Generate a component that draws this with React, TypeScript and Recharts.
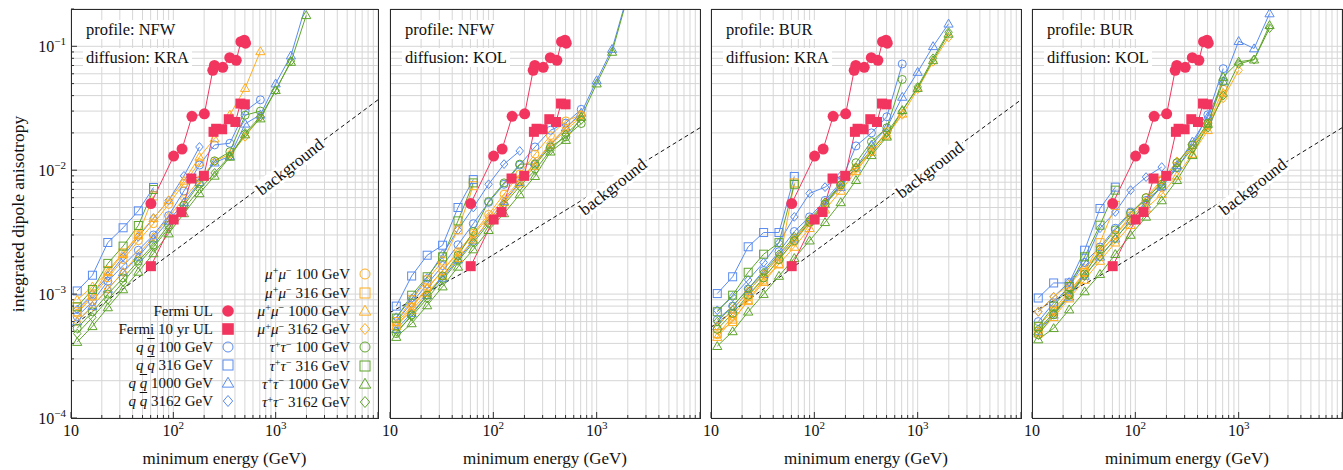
import React from 'react';
import { LineChart, Line, XAxis, YAxis, CartesianGrid } from 'recharts';

const FONT = '"Liberation Serif", "DejaVu Serif", "Times New Roman", serif';
const BLUE = '#5a8cf0';
const ORANGE = '#ffad1f';
const GREEN = '#5fa52c';
const RED = '#f2355f';
const GRID = '#d6d6d6';

// energy grid of the model points (GeV)
const E_GRID = [11.5, 16.2, 22.9, 32.3, 45.5, 64, 90, 127, 180, 253, 357, 503, 709, 1000, 1410, 1990];

// Fermi upper limits (same in all panels)
const FERMI_UL_E = [60.4, 100.7, 121.7, 152, 201, 243, 252, 304, 356, 412, 457, 494, 508];
const FERMI_UL = [0.00538, 0.013, 0.0148, 0.0272, 0.0285, 0.064, 0.07, 0.0677, 0.081, 0.077, 0.109, 0.112, 0.106];
const FERMI10_E = [60.4, 100.7, 120, 150, 199, 247, 262, 300, 348, 404, 452, 500];
const FERMI10 = [0.00168, 0.004, 0.0046, 0.00857, 0.009, 0.0204, 0.0216, 0.0214, 0.0258, 0.0245, 0.0345, 0.034];

// background curves
const BG_KRA_E = [10, 100, 1000, 10000];
const BG_KRA = [0.00054, 0.0022, 0.009, 0.037];
const BG_KOL_E = [10, 60, 450, 10000];
const BG_KOL = [0.00071, 0.0016, 0.0045, 0.022];

// model values, units of 1e-3, on E_GRID
// panel 1: NFW / KRA
const P1_QQ100 = [0.66, 0.87, 1.27, 1.7, 2.26, 3.0, 4.3, 6.8, 11, 16, 16.5, 30, 37];
const P1_QQ316 = [1.06, 1.42, 2.61, 3.43, 4.7, 7.25];
const P1_QQ1000 = [0.6, 0.8, 1.1, 1.5, 2.0, 2.8, 3.9, 5.5, 8.0, 11.5, 13, 23.7, 28, 50, 84, 220];
const P1_QQ3162 = [0.75, 1.0, 1.4, 2.0, 2.9, 4.1, 5.7, 9.0, 15.4];
const P1_MM100 = [0.7, 0.95, 1.35, 1.9, 2.7, 3.7, 5.3, 7.8, 11.5];
const P1_MM316 = [0.72, 0.98, 1.55, 2.15, 3.0, 6.2];
const P1_MM1000 = [0.9, 1.15, 1.5, 2.1, 3.0, 4.1, 5.7, 8.2, 12.8, 18, 28, 46, 91];
const P1_MM3162 = [0.6, 0.8, 1.1, 1.5, 2.1, 2.9, 4.2, 5.9, 8.3, 11.8, 13.5, 18.6, 27];
const P1_TT100 = [0.53, 0.72, 1.0, 1.35, 1.85, 2.5, 3.6, 5.2, 7.8, 11.9, 14.1, 27.8, 30];
const P1_TT316 = [0.79, 1.09, 1.77, 2.44, 3.58, 6.98];
const P1_TT1000 = [0.41, 0.55, 0.78, 1.09, 1.51, 2.13, 3.08, 4.48, 6.5, 9.0, 12.8, 19.4, 26.1, 44.2, 74.7, 178];
const P1_TT3162 = [0.48, 0.65, 0.9, 1.25, 1.75, 2.4, 3.4, 4.9, 7.0, 9.5, 13, 20, 27, 44, 76];

// panel 2: NFW / KOL
const P2_QQ100 = [0.6, 0.85, 1.2, 1.7, 2.5, 3.7, 5.5, 7.7, 11, 15.4, 21, 24, 31];
const P2_QQ316 = [0.8, 1.4, 2.06, 2.48, 5.0, 8.4];
const P2_QQ1000 = [0.52, 0.7, 0.98, 1.35, 1.9, 2.7, 3.9, 5.6, 8.0, 11.5, 16, 22, 29, 53, 95, 260];
const P2_QQ3162 = [0.65, 0.92, 1.35, 2.1, 3.3, 5.0, 7.7, 11.2, 14.3];
const P2_MM100 = [0.55, 0.78, 1.1, 1.55, 2.2, 3.1, 4.4, 6.4, 9.3, 13.5, 19, 25, 28];
const P2_MM316 = [0.6, 0.9, 1.3, 1.85, 3.3, 7.5];
const P2_MM1000 = [0.55, 0.74, 1.02, 1.4, 1.95, 2.75, 3.9, 5.5, 7.8, 10.8, 16, 21, 27];
const P2_MM3162 = [0.58, 0.8, 1.12, 1.55, 2.15, 3.0, 4.2, 5.9, 8.2, 11.5, 16.5, 22, 28];
const P2_TT100 = [0.48, 0.68, 0.98, 1.4, 2.05, 3.2, 5.6, 7.9, 11.2, 11.2, 15.4, 18.6, 23.8];
const P2_TT316 = [0.64, 0.98, 1.38, 2.0, 3.9, 7.9];
const P2_TT1000 = [0.45, 0.58, 0.81, 1.15, 1.66, 2.29, 3.28, 4.48, 6.37, 8.95, 14.1, 17.5, 26.9, 50, 90, 250];
const P2_TT3162 = [0.5, 0.66, 0.92, 1.3, 1.85, 2.6, 3.7, 5.3, 7.4, 10, 14.5, 19.5, 25.5];

// panel 3: BUR / KRA
const P3_QQ100 = [0.62, 0.8, 1.1, 1.55, 2.2, 3.2, 4.2, 5.7, 8.0, 15.7, 20, 27, 72];
const P3_QQ316 = [1.01, 1.38, 2.41, 3.14, 3.14, 8.9];
const P3_QQ1000 = [0.55, 0.75, 1.05, 1.45, 2.0, 2.8, 3.9, 5.3, 7.3, 10.5, 16, 22, 39, 62, 100, 152];
const P3_QQ3162 = [0.74, 0.95, 1.3, 1.8, 2.6, 4.2, 6.5, 7.3, 9.0];
const P3_MM100 = [0.47, 0.66, 0.95, 1.35, 1.9, 2.65, 3.75, 5.3, 7.5, 10.5, 14.5, 20.5];
const P3_MM316 = [0.48, 0.6, 0.9, 1.3, 1.75, 7.9];
const P3_MM1000 = [0.45, 0.62, 0.88, 1.25, 1.75, 2.4, 3.4, 4.8, 6.8, 9.8, 14, 19, 28.5];
const P3_MM3162 = [0.55, 0.75, 1.05, 1.45, 2.0, 2.8, 3.9, 5.4, 7.5, 10.2, 14, 19, 28, 45, 75, 118];
const P3_TT100 = [0.52, 0.7, 0.98, 1.35, 1.9, 2.7, 3.8, 5.3, 7.6, 11.5, 17, 22, 54];
const P3_TT316 = [0.72, 0.98, 1.5, 2.1, 2.6, 7.7];
const P3_TT1000 = [0.38, 0.5, 0.72, 1.0, 1.4, 1.95, 2.7, 3.8, 5.5, 8.3, 13.2, 18.6, 30.5, 46, 77, 126];
const P3_TT3162 = [0.6, 0.8, 1.1, 1.5, 2.1, 2.9, 4.0, 5.5, 7.7, 10.5, 14.5, 20, 30, 47, 80, 130];

// panel 4: BUR / KOL
const P4_QQ100 = [0.6, 0.85, 1.15, 1.8, 2.4, 3.4, 4.6, 5.7, 7.3, 10.4, 15.9, 28, 66];
const P4_QQ316 = [0.93, 1.23, 1.23, 2.26, 4.91, 7.3];
const P4_QQ1000 = [0.5, 0.68, 0.95, 1.4, 2.0, 2.8, 3.9, 5.3, 7.4, 11, 17, 27, 52, 110, 96, 184];
const P4_QQ3162 = [0.72, 0.95, 1.25, 1.8, 3.4, 4.6, 6.9, 8.8, 10.6];
const P4_MM100 = [0.55, 0.75, 1.05, 1.5, 2.15, 3.0, 4.3, 6.0, 8.4, 11.5, 16, 23, 45];
const P4_MM316 = [0.5, 0.72, 1.0, 1.5, 2.6, 5.2];
const P4_MM1000 = [0.48, 0.65, 0.92, 1.3, 1.85, 2.6, 3.6, 4.9, 6.4, 9.0, 13.5, 21, 42];
const P4_MM3162 = [0.72, 0.95, 1.2, 1.6, 2.2, 3.0, 4.1, 5.6, 8.3, 11.8, 15, 24, 38, 64];
const P4_TT100 = [0.47, 0.68, 0.98, 1.45, 2.3, 3.3, 4.5, 6.0, 7.7, 11.5, 16, 24, 52];
const P4_TT316 = [0.55, 0.8, 1.15, 2.0, 3.6, 6.9];
const P4_TT1000 = [0.43, 0.53, 0.75, 1.05, 1.45, 2.1, 3.0, 4.2, 5.7, 8.3, 13.2, 23.6, 56.5, 75, 78, 148];
const P4_TT3162 = [0.52, 0.7, 0.98, 1.4, 2.0, 2.8, 3.9, 5.4, 7.5, 10.5, 15, 22, 40, 72, 78, 140];

const MANT = [1, 2, 3, 4, 5, 6, 7, 8, 9];
const X_TICKS = [1, 2, 3].flatMap((e) => MANT.map((m) => m * Math.pow(10, e))).concat([10000]);
const Y_TICKS = [-4, -3, -2].flatMap((e) => MANT.map((m) => m * Math.pow(10, e))).concat([0.1, 0.2]);

type Shape = 'circle' | 'square' | 'triangle' | 'diamond';

const SERIES_META: { id: string; color: string; shape: Shape }[] = [
  { id: 'qq100', color: BLUE, shape: 'circle' },
  { id: 'qq316', color: BLUE, shape: 'square' },
  { id: 'qq1000', color: BLUE, shape: 'triangle' },
  { id: 'qq3162', color: BLUE, shape: 'diamond' },
  { id: 'mm100', color: ORANGE, shape: 'circle' },
  { id: 'mm316', color: ORANGE, shape: 'square' },
  { id: 'mm1000', color: ORANGE, shape: 'triangle' },
  { id: 'mm3162', color: ORANGE, shape: 'diamond' },
  { id: 'tt100', color: GREEN, shape: 'circle' },
  { id: 'tt316', color: GREEN, shape: 'square' },
  { id: 'tt1000', color: GREEN, shape: 'triangle' },
  { id: 'tt3162', color: GREEN, shape: 'diamond' },
];

const PANELS = [
  {
    profile: 'NFW', diffusion: 'KRA', left: 71, width: 307, bgE: BG_KRA_E, bg: BG_KRA, bgLabel: [290, 166.7],
    series: [P1_QQ100, P1_QQ316, P1_QQ1000, P1_QQ3162, P1_MM100, P1_MM316, P1_MM1000, P1_MM3162, P1_TT100, P1_TT316, P1_TT1000, P1_TT3162],
  },
  {
    profile: 'NFW', diffusion: 'KOL', left: 390, width: 310, bgE: BG_KOL_E, bg: BG_KOL, bgLabel: [613, 186.7],
    series: [P2_QQ100, P2_QQ316, P2_QQ1000, P2_QQ3162, P2_MM100, P2_MM316, P2_MM1000, P2_MM3162, P2_TT100, P2_TT316, P2_TT1000, P2_TT3162],
  },
  {
    profile: 'BUR', diffusion: 'KRA', left: 711, width: 310, bgE: BG_KRA_E, bg: BG_KRA, bgLabel: [930, 170],
    series: [P3_QQ100, P3_QQ316, P3_QQ1000, P3_QQ3162, P3_MM100, P3_MM316, P3_MM1000, P3_MM3162, P3_TT100, P3_TT316, P3_TT1000, P3_TT3162],
  },
  {
    profile: 'BUR', diffusion: 'KOL', left: 1032, width: 310, bgE: BG_KOL_E, bg: BG_KOL, bgLabel: [1253, 186.7],
    series: [P4_QQ100, P4_QQ316, P4_QQ1000, P4_QQ3162, P4_MM100, P4_MM316, P4_MM1000, P4_MM3162, P4_TT100, P4_TT316, P4_TT1000, P4_TT3162],
  },
];

const PLOT_TOP = 9;
const PLOT_BOTTOM = 418;

const modelData = (vals: number[]) => vals.map((v, i) => ({ e: E_GRID[i], v: v * 1e-3 }));
const pairData = (es: number[], vs: number[]) => es.map((e, i) => ({ e, v: vs[i] }));

function Marker({ shape, cx, cy, color, size, filled }: { shape: Shape; cx: number; cy: number; color: string; size: number; filled?: boolean }) {
  const fill = filled ? color : 'none';
  const sw = filled ? 0 : 1;
  if (shape === 'circle') return <circle cx={cx} cy={cy} r={size} fill={fill} stroke={color} strokeWidth={sw} />;
  if (shape === 'square')
    return <rect x={cx - size} y={cy - size} width={2 * size} height={2 * size} fill={fill} stroke={color} strokeWidth={sw} />;
  if (shape === 'triangle') {
    const h = size * 1.15;
    return (
      <polygon
        points={`${cx},${cy - h} ${cx - h},${cy + h * 0.72} ${cx + h},${cy + h * 0.72}`}
        fill={fill}
        stroke={color}
        strokeWidth={sw}
      />
    );
  }
  const d = size * 1.1;
  return (
    <polygon points={`${cx},${cy - d} ${cx + d * 0.85},${cy} ${cx},${cy + d} ${cx - d * 0.85},${cy}`} fill={fill} stroke={color} strokeWidth={sw} />
  );
}

const makeDot = (shape: Shape, color: string, size: number, filled = false) => (props: any) => {
  const { cx, cy, index } = props;
  if (cx == null || cy == null || isNaN(cx) || isNaN(cy)) return <g key={`d${index}`} />;
  return <Marker key={`d${index}`} shape={shape} cx={cx} cy={cy} color={color} size={size} filled={filled} />;
};

const isMajor = (v: number) => {
  const lg = Math.log10(v);
  return Math.abs(lg - Math.round(lg)) < 1e-9;
};

function XTick(props: any) {
  const { x, y, payload } = props;
  const v = payload.value;
  const major = isMajor(v);
  const lg = Math.round(Math.log10(v));
  return (
    <g>
      <line x1={x} x2={x} y1={y} y2={y - (major ? 6 : 3)} stroke="#333" strokeWidth={1} />
      {major && v < 10000 && (
        <text x={x} y={y + 18} textAnchor="middle" fontSize={16} fontFamily={FONT} fill="#111">
          {lg === 1 ? (
            '10'
          ) : (
            <>
              <tspan>10</tspan>
              <tspan dy={-7} fontSize={11}>{lg}</tspan>
            </>
          )}
        </text>
      )}
    </g>
  );
}

function YTick(props: any) {
  const { x, y, payload } = props;
  const v = payload.value;
  const major = isMajor(v);
  const lg = Math.round(Math.log10(v));
  return (
    <g>
      <line x1={x} x2={x + (major ? 6 : 3)} y1={y} y2={y} stroke="#333" strokeWidth={1} />
      {major && (
        <text x={x - 5} y={y + 6} textAnchor="end" fontSize={16} fontFamily={FONT} fill="#111">
          <tspan>10</tspan>
          <tspan dy={-7} fontSize={11}>{`\u2212${-lg}`}</tspan>
        </text>
      )}
    </g>
  );
}

function Panel({ p, idx }: { p: (typeof PANELS)[number]; idx: number }) {
  const first = idx === 0;
  const ml = first ? 0 : 14;
  const mr = first ? 8 : 6;
  const yw = first ? p.left : 0;
  const chartLeft = first ? 0 : p.left - 14;
  const width = yw + ml + p.width + mr;
  return (
    <div style={{ position: 'absolute', left: chartLeft, top: 0 }}>
      <LineChart width={width} height={470} margin={{ top: PLOT_TOP, right: mr, left: ml, bottom: 0 }}>
        <CartesianGrid stroke={GRID} strokeWidth={1} />
        <XAxis
          type="number"
          dataKey="e"
          scale="log"
          domain={[10, 10000]}
          allowDataOverflow
          ticks={X_TICKS}
          interval={0}
          tickLine={false}
          axisLine={false}
          tickSize={0}
          tickMargin={0}
          height={470 - PLOT_BOTTOM}
          tick={(tp: any) => <XTick {...tp} />}
        />
        <YAxis
          type="number"
          dataKey="v"
          scale="log"
          domain={[1e-4, 0.2]}
          allowDataOverflow
          ticks={Y_TICKS}
          interval={0}
          tickLine={false}
          axisLine={false}
          tickSize={0}
          tickMargin={0}
          hide={!first}
          width={first ? p.left : 0}
          tick={(tp: any) => <YTick {...tp} />}
        />
        <Line
          data={pairData(p.bgE, p.bg)}
          dataKey="v"
          stroke="#111"
          strokeWidth={1}
          strokeDasharray="4 3"
          dot={false}
          activeDot={false}
          isAnimationActive={false}
          type="linear"
        />
        {SERIES_META.map((m, si) => (
          <Line
            key={m.id}
            data={modelData(p.series[si])}
            dataKey="v"
            stroke={m.color}
            strokeWidth={1}
            type="linear"
            dot={makeDot(m.shape, m.color, 4)}
            activeDot={false}
            isAnimationActive={false}
          />
        ))}
        <Line
          data={pairData(FERMI10_E, FERMI10)}
          dataKey="v"
          stroke={RED}
          strokeWidth={1}
          type="linear"
          dot={makeDot('square', RED, 5, true)}
          activeDot={false}
          isAnimationActive={false}
        />
        <Line
          data={pairData(FERMI_UL_E, FERMI_UL)}
          dataKey="v"
          stroke={RED}
          strokeWidth={1}
          type="linear"
          dot={makeDot('circle', RED, 5.5, true)}
          activeDot={false}
          isAnimationActive={false}
        />
      </LineChart>
    </div>
  );
}

const supStyle: React.CSSProperties = { fontSize: '0.68em', position: 'relative', top: '-0.45em', lineHeight: 0 };
const qq = (m: string) => (
  <>
    <i>q</i> <span style={{ textDecoration: 'overline' }}><i>q</i></span> {m} GeV
  </>
);
const mm = (m: string) => (
  <>
    <i>μ</i><span style={supStyle}>+</span><i>μ</i><span style={supStyle}>−</span> {m} GeV
  </>
);
const tt = (m: string) => (
  <>
    <i>τ</i><span style={supStyle}>+</span><i>τ</i><span style={supStyle}>−</span> {m} GeV
  </>
);

const LEGEND_COL1 = [
  { label: <>Fermi UL</>, shape: 'circle' as Shape, color: RED, filled: true, y: 310.7 },
  { label: <>Fermi 10 yr UL</>, shape: 'square' as Shape, color: RED, filled: true, y: 329 },
  { label: qq('100'), shape: 'circle' as Shape, color: BLUE, filled: false, y: 346.8 },
  { label: qq('316'), shape: 'square' as Shape, color: BLUE, filled: false, y: 364.9 },
  { label: qq('1000'), shape: 'triangle' as Shape, color: BLUE, filled: false, y: 383 },
  { label: qq('3162'), shape: 'diamond' as Shape, color: BLUE, filled: false, y: 401.2 },
];
const LEGEND_COL2 = [
  { label: mm('100'), shape: 'circle' as Shape, color: ORANGE, y: 274 },
  { label: mm('316'), shape: 'square' as Shape, color: ORANGE, y: 292.5 },
  { label: mm('1000'), shape: 'triangle' as Shape, color: ORANGE, y: 310.9 },
  { label: mm('3162'), shape: 'diamond' as Shape, color: ORANGE, y: 329.2 },
  { label: tt('100'), shape: 'circle' as Shape, color: GREEN, y: 347.4 },
  { label: tt('316'), shape: 'square' as Shape, color: GREEN, y: 365.7 },
  { label: tt('1000'), shape: 'triangle' as Shape, color: GREEN, y: 384 },
  { label: tt('3162'), shape: 'diamond' as Shape, color: GREEN, y: 402.3 },
];

function LegendRow({ right, mx, item }: { right: number; mx: number; item: any }) {
  return (
    <>
      <div
        style={{
          position: 'absolute',
          left: right - 220,
          width: 220,
          top: item.y - 9,
          height: 18,
          lineHeight: '18px',
          textAlign: 'right',
          fontSize: 15,
          fontFamily: FONT,
          whiteSpace: 'nowrap',
          color: '#111',
        }}
      >
        {item.label}
      </div>
      <svg style={{ position: 'absolute', left: mx - 9, top: item.y - 9 }} width={18} height={18}>
        <Marker shape={item.shape} cx={9} cy={9} color={item.color} size={item.filled ? 5.8 : 5} filled={!!item.filled} />
      </svg>
    </>
  );
}

export default function App() {
  return (
    <div style={{ position: 'absolute', left: 0, top: 0, width: 1343, height: 470, background: '#fff', overflow: 'hidden', fontFamily: FONT }}>
      {PANELS.map((p, i) => (
        <Panel key={i} p={p} idx={i} />
      ))}
      {PANELS.map((p, i) => (
        <React.Fragment key={`o${i}`}>
          <div
            style={{
              position: 'absolute',
              left: p.left,
              top: PLOT_TOP,
              width: p.width + 1,
              height: PLOT_BOTTOM - PLOT_TOP + 1,
              border: '1px solid #2a2a2a',
              boxSizing: 'border-box',
              pointerEvents: 'none',
            }}
          />
          <div style={{ position: 'absolute', left: p.left + 12, top: 20, fontSize: 16.5, lineHeight: '19px', background: '#fff', padding: '0 3px', color: '#111', whiteSpace: 'nowrap' }}>
            profile: {p.profile}
          </div>
          <div style={{ position: 'absolute', left: p.left + 12, top: 47.5, fontSize: 16.5, lineHeight: '19px', background: '#fff', padding: '0 3px', color: '#111', whiteSpace: 'nowrap' }}>
            diffusion: {p.diffusion}
          </div>
          <div
            style={{
              position: 'absolute',
              left: p.bgLabel[0],
              top: p.bgLabel[1],
              transform: 'translate(-50%, -50%) rotate(-38deg)',
              fontSize: 17,
              lineHeight: '17px',
              background: '#fff',
              padding: '0 2px',
              color: '#111',
              whiteSpace: 'nowrap',
            }}
          >
            background
          </div>
          <div
            style={{
              position: 'absolute',
              left: p.left + p.width / 2,
              top: 449.5,
              transform: 'translateX(-50%)',
              fontSize: 17,
              lineHeight: '18px',
              color: '#111',
              whiteSpace: 'nowrap',
            }}
          >
            minimum energy (GeV)
          </div>
        </React.Fragment>
      ))}
      <div
        style={{
          position: 'absolute',
          left: 17.5,
          top: 213.5,
          transform: 'translate(-50%, -50%) rotate(-90deg)',
          fontSize: 17.5,
          lineHeight: '18px',
          color: '#111',
          whiteSpace: 'nowrap',
        }}
      >
        integrated dipole anisotropy
      </div>
      {LEGEND_COL1.map((it, i) => (
        <LegendRow key={`l1${i}`} right={213} mx={228} item={it} />
      ))}
      {LEGEND_COL2.map((it, i) => (
        <LegendRow key={`l2${i}`} right={350} mx={365} item={it} />
      ))}
    </div>
  );
}
